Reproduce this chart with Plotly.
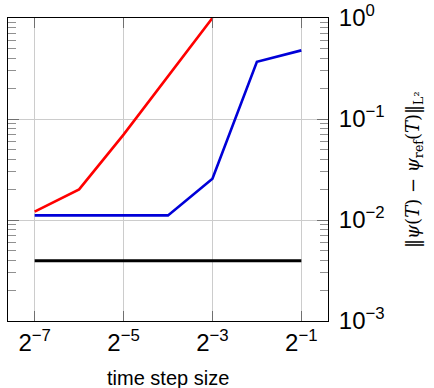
import plotly.graph_objects as go
import numpy as np

dt = [2**-7, 2**-6, 2**-5, 2**-4, 2**-3, 2**-2, 2**-1]
err_red = [0.0121, 0.0201, 0.070, 0.268, 1.0]
err_blue = [0.0111, 0.0111, 0.0111, 0.0111, 0.0256, 0.369, 0.478]
err_black = [0.00395] * 7

x_tickvals = [2**-7, 2**-5, 2**-3, 2**-1]
x_ticktext = ["2<sup>−7</sup>", "2<sup>−5</sup>", "2<sup>−3</sup>", "2<sup>−1</sup>"]
y_tickvals = [1e-3, 1e-2, 1e-1, 1]
y_ticktext = ["10<sup>−3</sup>", "10<sup>−2</sup>", "10<sup>−1</sup>", "10<sup>0</sup>"]
y_minor = [m * 10.0**k for k in (-3, -2, -1) for m in range(2, 10)]

fig = go.Figure()
fig.add_trace(go.Scatter(x=dt, y=err_black, mode="lines",
                         line=dict(color="black", width=3.2)))
fig.add_trace(go.Scatter(x=dt[:len(err_red)], y=err_red, mode="lines",
                         line=dict(color="#ff0000", width=2.6)))
fig.add_trace(go.Scatter(x=dt, y=err_blue, mode="lines",
                         line=dict(color="#0000d8", width=2.6)))

font_family = "Liberation Sans, Arial, sans-serif"
fig.update_layout(
    width=434, height=388,
    margin=dict(l=8, r=106, t=18, b=67, autoexpand=False),
    paper_bgcolor="white", plot_bgcolor="white",
    showlegend=False,
    font=dict(family=font_family, color="black"),
    xaxis=dict(
        type="log", automargin=False,
        range=[np.log10(2**-7.6), np.log10(2**-0.4)],
        tickvals=x_tickvals, ticktext=x_ticktext,
        tickfont=dict(size=24, family=font_family),
        ticks="inside", ticklen=10, tickcolor="#707070", tickwidth=1,
        showgrid=True, gridcolor="#cccccc", gridwidth=1,
        showline=True, linecolor="black", linewidth=1, mirror="ticks",
        zeroline=False,
    ),
    yaxis=dict(
        type="log", side="right", automargin=False,
        range=[-3, 0],
        tickvals=y_tickvals, ticktext=y_ticktext,
        tickfont=dict(size=24, family=font_family),
        ticks="inside", ticklen=11, tickcolor="#707070", tickwidth=1,
        ticklabelstandoff=5,
        showgrid=True, gridcolor="#cccccc", gridwidth=1,
        showline=True, linecolor="black", linewidth=1, mirror="ticks",
        zeroline=False,
        minor=dict(tickvals=y_minor, ticks="inside", ticklen=8,
                   tickcolor="#909090", tickwidth=1, showgrid=False),
    ),
)

fig.add_annotation(
    xref="paper", yref="paper",
    x=(168 - 8) / 320, y=(321 - 378) / 303,
    text="time step size", showarrow=False,
    font=dict(size=20, family=font_family, color="black"),
    xanchor="center", yanchor="middle",
)

fig.add_annotation(
    xref="paper", yref="paper",
    x=(414 - 8) / 320, y=(321 - 170) / 303,
    text="‖<i>ψ</i>(<i>T</i>) − <i>ψ</i><sub>ref</sub>(<i>T</i>)‖<sub>L²</sub>",
    textangle=-90, showarrow=False,
    font=dict(size=18, family="DejaVu Serif, serif", color="black"),
    xanchor="center", yanchor="middle",
)

fig.write_html("out.html", post_script="document.body.style.margin='0';",
               config={"displayModeBar": False})
